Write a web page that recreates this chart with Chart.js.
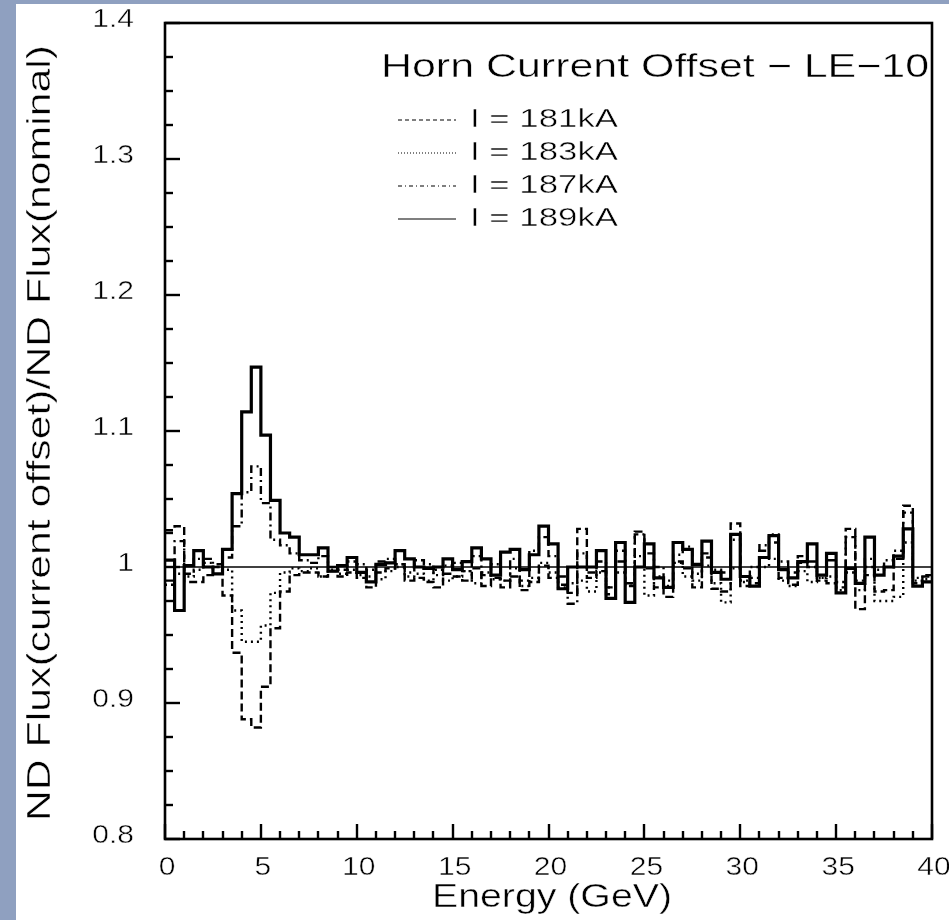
<!DOCTYPE html>
<html>
<head>
<meta charset="utf-8">
<script src="https://cdn.jsdelivr.net/npm/chart.js@4.4.1/dist/chart.umd.min.js"></script>
<style>
  html, body { margin: 0; padding: 0; background: #8fa0c0; }
  #wrap { position: relative; width: 949px; height: 920px; }
</style>
</head>
<body>
<div id="wrap"><canvas id="c" width="949" height="920"></canvas></div>
<script>
// ratio of ND flux with horn current offset / nominal, 0.5 GeV bins from 0 to 40 GeV
const binWidth = 0.5;
const xTickLabels = ['0', '5', '10', '15', '20', '25', '30', '35', '40'];
const yTickLabels = ['0.8', '0.9', '1', '1.1', '1.2', '1.3', '1.4'];
const seriesNames = ['I = 181kA', 'I = 183kA', 'I = 187kA', 'I = 189kA'];
const plotTitle = 'Horn Current Offset \u2212 LE\u221210';
const xTitle = 'Energy (GeV)';
const yTitle = 'ND Flux(current offset)/ND Flux(nominal)';

const flux181 = [
  1.027, 1.030, 0.989, 0.989, 0.994, 1.000, 0.979, 0.937, 0.888, 0.882,
  0.912, 0.955, 0.982, 0.994, 0.996, 0.996, 0.993, 0.997, 0.993, 0.996,
  0.992, 0.985, 0.996, 0.999, 1.002, 0.990, 0.992, 0.989, 0.985, 0.995,
  0.993, 0.990, 0.999, 0.986, 0.992, 0.985, 0.993, 0.983, 0.989, 1.001,
  0.992, 0.987, 0.981, 1.028, 0.992, 0.997, 0.980, 1.004, 0.986, 1.026,
  0.999, 0.985, 0.978, 1.004, 0.999, 0.985, 1.007, 0.984, 0.982, 1.032,
  0.986, 0.988, 1.012, 1.018, 0.992, 0.987, 1.003, 1.000, 0.990, 0.988,
  0.985, 1.028, 0.969, 0.994, 0.982, 0.983, 1.006, 1.045, 0.988, 0.994
];
const flux183 = [
  0.987, 0.995, 0.993, 0.998, 1.003, 1.000, 0.998, 0.968, 0.945, 0.945,
  0.957, 0.981, 0.996, 0.999, 0.997, 0.999, 0.993, 0.998, 0.995, 0.998,
  0.994, 0.998, 0.991, 0.997, 1.002, 0.993, 0.995, 0.990, 0.998, 0.990,
  0.993, 0.997, 0.988, 0.996, 0.991, 0.990, 0.999, 0.986, 0.992, 1.003,
  0.996, 0.985, 0.988, 0.990, 0.982, 0.996, 0.985, 0.996, 0.988, 1.008,
  0.979, 0.993, 0.986, 1.003, 0.993, 0.990, 1.001, 0.988, 0.974, 0.999,
  0.989, 0.992, 1.000, 1.006, 0.990, 0.986, 0.997, 0.989, 0.992, 0.993,
  0.983, 0.996, 0.983, 1.000, 0.975, 0.975, 0.978, 1.018, 0.990, 0.991
];
const flux187 = [
  0.990, 1.019, 0.995, 1.006, 1.006, 1.002, 1.007, 1.030, 1.055, 1.074,
  1.047, 1.020, 1.016, 1.010, 1.005, 1.003, 1.008, 1.000, 0.998, 1.004,
  1.002, 0.993, 1.004, 1.006, 1.000, 0.996, 1.005, 1.002, 0.994, 1.001,
  1.003, 0.997, 1.008, 0.994, 1.002, 0.990, 1.006, 0.990, 1.012, 1.022,
  1.008, 0.993, 0.973, 1.010, 0.996, 1.004, 0.985, 1.012, 0.988, 1.024,
  1.010, 1.000, 0.990, 1.009, 1.015, 0.995, 1.010, 0.998, 0.996, 1.020,
  0.990, 1.000, 1.016, 1.024, 1.004, 0.996, 1.008, 1.004, 0.992, 1.005,
  0.989, 1.022, 0.990, 1.006, 0.998, 1.005, 1.012, 1.040, 0.992, 0.993
];
const flux189 = [
  1.005, 0.968, 1.001, 1.012, 1.000, 0.995, 1.013, 1.054, 1.114, 1.147,
  1.097, 1.049, 1.025, 1.022, 1.009, 1.009, 1.014, 0.997, 1.001, 1.007,
  0.996, 0.989, 1.002, 1.003, 1.012, 1.006, 1.000, 0.999, 1.000, 1.006,
  0.998, 1.004, 1.014, 1.006, 0.994, 1.011, 1.013, 0.998, 1.009, 1.030,
  1.017, 0.984, 1.000, 1.000, 1.000, 1.012, 0.977, 1.018, 0.974, 1.000,
  1.017, 0.992, 0.985, 1.018, 1.013, 1.002, 1.019, 0.996, 0.991, 1.024,
  0.993, 0.986, 1.007, 1.023, 0.998, 0.992, 1.004, 1.017, 0.994, 1.010,
  0.981, 0.999, 0.988, 1.022, 0.994, 1.000, 1.008, 1.028, 0.986, 0.989
];

const xMin = Number(xTickLabels[0]), xMax = Number(xTickLabels[xTickLabels.length - 1]);
const yMin = Number(yTickLabels[0]), yMax = Number(yTickLabels[yTickLabels.length - 1]);

// histogram: one point on each low edge, plus the last high edge
function histPoints(vals) {
  const pts = vals.map((v, i) => ({ x: xMin + i * binWidth, y: v }));
  pts.push({ x: xMin + vals.length * binWidth, y: vals[vals.length - 1] });
  return pts;
}

const styles = [
  { width: 2.4, dash: [8, 4], legendDash: [4, 3] },
  { width: 2.4, dash: [2, 4], legendDash: [1, 2] },
  { width: 2.4, dash: [8, 4, 2, 4], legendDash: [4, 3, 1, 3] },
  { width: 3.2, dash: [], legendDash: [] }
];
const allSeries = [flux181, flux183, flux187, flux189];

const datasets = allSeries.map((vals, k) => ({
  label: seriesNames[k],
  data: histPoints(vals),
  borderColor: '#000',
  borderWidth: styles[k].width,
  borderDash: styles[k].dash,
  stepped: true,
  pointRadius: 0,
  fill: false
}));
datasets.push({
  label: 'nominal',
  data: [{ x: xMin, y: 1 }, { x: xMax, y: 1 }],
  borderColor: '#000',
  borderWidth: 1.6,
  pointRadius: 0,
  fill: false
});

const FONT = '"Liberation Sans", Arial, sans-serif';

// ROOT-style wide, thin text
function wideText(ctx, text, x, y, o) {
  ctx.save();
  ctx.font = o.size + 'px ' + FONT;
  const w = ctx.measureText(text).width;
  const sx = o.width ? o.width / w : (o.stretch || 1);
  ctx.translate(x, y);
  if (o.rotate) ctx.rotate(o.rotate);
  ctx.scale(sx, 1);
  ctx.textAlign = o.align || 'left';
  ctx.textBaseline = o.baseline || 'alphabetic';
  ctx.fillStyle = '#000';
  ctx.fillText(text, 0, 0);
  ctx.strokeStyle = '#fff';
  ctx.lineWidth = 0.45;
  ctx.strokeText(text, 0, 0);
  ctx.restore();
}

const rootFrame = {
  id: 'rootFrame',
  beforeDraw(chart) {
    const ctx = chart.ctx;
    ctx.save();
    ctx.fillStyle = '#fff';
    ctx.fillRect(16, 4, chart.width - 16, chart.height - 4);
    ctx.restore();
  },
  afterDraw(chart) {
    const ctx = chart.ctx;
    const a = chart.chartArea;
    const xs = chart.scales.x, ys = chart.scales.y;
    ctx.save();
    ctx.strokeStyle = '#000';
    ctx.lineWidth = 2.6;
    ctx.setLineDash([]);
    ctx.strokeRect(a.left, a.top, a.right - a.left, a.bottom - a.top);

    // y ticks (inside), minor every 0.025
    ctx.lineWidth = 2.4;
    for (let v = yMin; v <= yMax + 1e-9; v += 0.025) {
      const py = Math.round(ys.getPixelForValue(v));
      const major = Math.abs(v * 10 - Math.round(v * 10)) < 1e-6;
      ctx.beginPath();
      ctx.moveTo(a.left, py);
      ctx.lineTo(a.left + (major ? 15 : 8), py);
      ctx.stroke();
    }
    // x ticks (inside), minor every 1 GeV
    for (let v = xMin; v <= xMax + 1e-9; v += 1) {
      const px = Math.round(xs.getPixelForValue(v));
      const major = v % 5 === 0;
      ctx.beginPath();
      ctx.moveTo(px, a.bottom);
      ctx.lineTo(px, a.bottom - (major ? 15 : 8));
      ctx.stroke();
    }

    yTickLabels.forEach(t => {
      wideText(ctx, t, 134, ys.getPixelForValue(Number(t)) - 3, { size: 25, stretch: 1.2, align: 'right', baseline: 'middle' });
    });
    xTickLabels.forEach(t => {
      wideText(ctx, t, xs.getPixelForValue(Number(t)) + 2, 868, { size: 25, stretch: 1.2, align: 'center', baseline: 'middle' });
    });
    wideText(ctx, xTitle, 552, 907, { size: 33, width: 240, align: 'center' });
    wideText(ctx, yTitle, 41, 433, { size: 33, width: 776, align: 'center', baseline: 'middle', rotate: -Math.PI / 2 });

    // legend
    wideText(ctx, plotTitle, 381, 77, { size: 33, width: 548 });
    seriesNames.forEach((name, k) => {
      const cy = 120 + k * 33;
      ctx.lineWidth = 1.2;
      ctx.setLineDash(styles[k].legendDash);
      ctx.beginPath();
      ctx.moveTo(398, cy);
      ctx.lineTo(456, cy);
      ctx.stroke();
      ctx.setLineDash([]);
      wideText(ctx, name, 470, cy, { size: 26, width: 148, baseline: 'middle' });
    });
    ctx.restore();
  }
};

new Chart(document.getElementById('c'), {
  type: 'line',
  data: { datasets },
  options: {
    responsive: false,
    animation: false,
    layout: { padding: { left: 165, top: 23, right: 17, bottom: 81 } },
    plugins: { legend: { display: false }, tooltip: { enabled: false } },
    scales: {
      x: { type: 'linear', min: xMin, max: xMax, display: false },
      y: { type: 'linear', min: yMin, max: yMax, display: false }
    }
  },
  plugins: [rootFrame]
});
</script>
</body>
</html>
